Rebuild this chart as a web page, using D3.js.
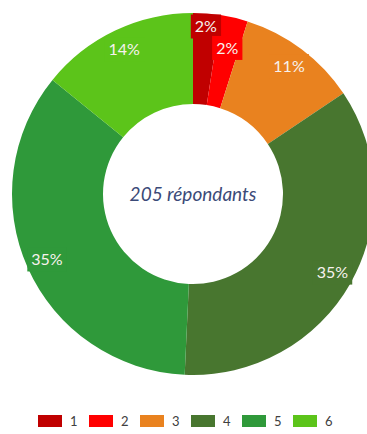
<!DOCTYPE html>
<html>
<head>
<meta charset="utf-8">
<script src="https://cdn.jsdelivr.net/npm/d3@7"></script>
<style>
  html, body { margin: 0; padding: 0; background: #ffffff; }
  svg { display: block; }
</style>
</head>
<body>
<svg id="chart" width="367" height="434"></svg>
<script>
// Réponses par niveau (1 à 6), en nombre de répondants
const categories = ["1", "2", "3", "4", "5", "6"];
const counts = [5, 5, 22, 72, 72, 29];
const colors = ["#C00000", "#FF0000", "#E9821F", "#48762F", "#2F993A", "#5CC41A"];

const width = 367, height = 434;
const cx = 193, cy = 194;
const outerR = 181, innerR = 90, labelR = 160;

const total = d3.sum(counts);
const svg = d3.select("#chart");

const pie = d3.pie().sort(null).value(d => d.value);
const arcs = pie(categories.map((c, i) => ({ cat: c, value: counts[i], color: colors[i] })));

const arc = d3.arc().innerRadius(innerR).outerRadius(outerR);
const g = svg.append("g").attr("transform", `translate(${cx},${cy})`);

g.selectAll("path.slice")
  .data(arcs)
  .join("path")
  .attr("class", "slice")
  .attr("d", arc)
  .attr("fill", d => d.data.color);

// Étiquettes de pourcentage ; les petites parts sont décalées en alternance
let smallIndex = 0;
const labels = g.selectAll("g.lbl")
  .data(arcs)
  .join("g")
  .attr("class", "lbl")
  .attr("transform", d => {
    let r = labelR;
    if (d.endAngle - d.startAngle < 0.2) {
      r += (smallIndex++ % 2 === 0) ? 8 : -10;
    }
    const a = (d.startAngle + d.endAngle) / 2;
    return `translate(${r * Math.sin(a)},${-r * Math.cos(a)})`;
  });

labels.append("rect").attr("fill", d => d.data.color);
const texts = labels.append("text")
  .attr("text-anchor", "middle")
  .attr("dy", "0.36em")
  .attr("font-family", "Lato, 'Open Sans', sans-serif")
  .attr("font-size", 16)
  .attr("fill", "#F7F2EE")
  .text(d => Math.round(d.data.value / total * 100) + "%");

texts.each(function() {
  const b = this.getBBox();
  d3.select(this.previousSibling)
    .attr("x", b.x - 4).attr("y", -12)
    .attr("width", b.width + 8).attr("height", 24);
});

// Texte central
g.append("text")
  .attr("text-anchor", "middle")
  .attr("dy", "0.35em")
  .attr("font-family", "Lato, 'Open Sans', sans-serif")
  .attr("font-style", "italic")
  .attr("font-size", 19)
  .attr("fill", "#3B4A78")
  .text(`${total} répondants`);

// Légende
const legendX = d3.scalePoint().domain(categories).range([38, 293]);
const legend = svg.append("g").attr("transform", "translate(0,415)");
const items = legend.selectAll("g")
  .data(categories.map((c, i) => ({ cat: c, color: colors[i] })))
  .join("g")
  .attr("transform", d => `translate(${legendX(d.cat)},0)`);
items.append("rect")
  .attr("width", 24).attr("height", 12)
  .attr("fill", d => d.color);
items.append("text")
  .attr("x", 32).attr("y", 11)
  .attr("font-family", "Lato, 'Open Sans', sans-serif")
  .attr("font-size", 13)
  .attr("fill", "#404040")
  .text(d => d.cat);
</script>
</body>
</html>
